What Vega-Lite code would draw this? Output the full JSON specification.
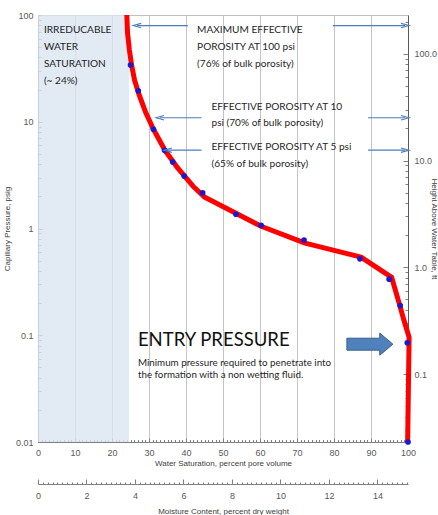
{
  "$schema": "https://vega.github.io/schema/vega-lite/v6.json",
  "autosize": "none",
  "width": 370,
  "height": 427,
  "padding": {"left": 38, "top": 15, "right": 30, "bottom": 73},
  "background": "white",
  "config": {
    "view": {"stroke": "#bfbfbf"},
    "axis": {
      "labelFont": "Liberation Sans",
      "labelFontSize": 9,
      "labelColor": "#595959",
      "titleFont": "Liberation Sans",
      "titleFontSize": 8,
      "titleFontWeight": "normal",
      "titleColor": "#404040",
      "domainColor": "#7f7f7f",
      "tickColor": "#7f7f7f",
      "gridColor": "#d4d4d4"
    }
  },
  "datasets": {
    "pts": [
      {"s": 25.0, "p": 34}, {"s": 27.1, "p": 19.5}, {"s": 31.2, "p": 8.5}, {"s": 34.2, "p": 5.4},
      {"s": 36.4, "p": 4.2}, {"s": 39.5, "p": 3.1}, {"s": 44.5, "p": 2.16}, {"s": 53.5, "p": 1.36},
      {"s": 60.3, "p": 1.07}, {"s": 71.9, "p": 0.78}, {"s": 87.0, "p": 0.52}, {"s": 94.9, "p": 0.335},
      {"s": 97.9, "p": 0.19}, {"s": 99.8, "p": 0.085}, {"s": 100, "p": 0.01}
    ],
    "curve": [
      {"i": 1, "s": 24.0, "p": 100}, {"i": 2, "s": 24.2, "p": 68}, {"i": 3, "s": 24.7, "p": 47},
      {"i": 4, "s": 25.3, "p": 34}, {"i": 5, "s": 26.1, "p": 24.5}, {"i": 6, "s": 27.3, "p": 18},
      {"i": 7, "s": 29.2, "p": 12}, {"i": 8, "s": 31.2, "p": 8.5}, {"i": 9, "s": 34.3, "p": 5.4},
      {"i": 10, "s": 37.8, "p": 3.67}, {"i": 11, "s": 41.9, "p": 2.49}, {"i": 12, "s": 45.1, "p": 1.96},
      {"i": 13, "s": 60.3, "p": 1.05}, {"i": 14, "s": 72.2, "p": 0.73}, {"i": 15, "s": 87.3, "p": 0.54},
      {"i": 16, "s": 95.6, "p": 0.348}, {"i": 17, "s": 97.6, "p": 0.2}, {"i": 18, "s": 98.9, "p": 0.138},
      {"i": 19, "s": 100.3, "p": 0.096}, {"i": 20, "s": 99.9, "p": 0.01}
    ],
    "arrows": [
      {"a": 26.8, "b": 40.5, "y": 79.6}, {"a": 79.7, "b": 99.2, "y": 79.6},
      {"a": 33.0, "b": 44.2, "y": 10.9}, {"a": 89.2, "b": 99.2, "y": 10.9},
      {"a": 35.1, "b": 44.2, "y": 5.42}, {"a": 89.2, "b": 99.2, "y": 5.42}
    ],
    "lheads": [{"x": 26.8, "y": 79.6}, {"x": 33.0, "y": 10.9}, {"x": 35.1, "y": 5.42}],
    "rheads": [{"x": 99.2, "y": 79.6}, {"x": 99.2, "y": 10.9}, {"x": 99.2, "y": 5.42}],
    "notes": [
      {"x": 1.6, "y": 72.1, "t": "IRREDUCABLE"},
      {"x": 1.6, "y": 50, "t": "WATER"},
      {"x": 1.6, "y": 34.7, "t": "SATURATION"},
      {"x": 1.6, "y": 24, "t": "(~ 24%)"},
      {"x": 43.0, "y": 72.1, "t": "MAXIMUM EFFECTIVE"},
      {"x": 43.0, "y": 50, "t": "POROSITY AT 100 psi"},
      {"x": 43.0, "y": 34.7, "t": "(76% of bulk porosity)"},
      {"x": 46.9, "y": 13.7, "t": "EFFECTIVE POROSITY AT 10"},
      {"x": 46.9, "y": 9.7, "t": "psi (70% of bulk porosity)"},
      {"x": 46.9, "y": 5.78, "t": "EFFECTIVE POROSITY AT 5 psi"},
      {"x": 46.9, "y": 4.0, "t": "(65% of bulk porosity)"}
    ],
    "entry": [{"x": 27.0, "y": 0.0897, "t": "ENTRY PRESSURE"}],
    "desc": [
      {"x": 27.0, "y": 0.055, "t": "Minimum pressure required to penetrate into"},
      {"x": 27.0, "y": 0.0422, "t": "the formation with a non wetting  fluid."}
    ],
    "big": [{"x": 89.7, "y": 0.0825}],
    "shade": [{"a": 0, "b": 24.6}]
  },
  "layer": [
    {
      "data": {"values": [{"w": 50}]},
      "mark": {"type": "point", "opacity": 0},
      "encoding": {
        "x": {
          "field": "w", "type": "quantitative",
          "scale": {"domain": [0, 100], "nice": false},
          "axis": {
            "orient": "bottom",
            "title": null,
            "grid": true,
            "gridColor": "#c4c4c4",
            "gridWidth": 1,
            "domain": false,
            "labels": false,
            "values": [0,1,2,3,4,5,6,7,8,9,10,11,12,13,14,15,16,17,18,19,20,21,22,23,24,25,26,27,28,29,30,31,32,33,34,35,36,37,38,39,40,41,42,43,44,45,46,47,48,49,50,51,52,53,54,55,56,57,58,59,60,61,62,63,64,65,66,67,68,69,70,71,72,73,74,75,76,77,78,79,80,81,82,83,84,85,86,87,88,89,90,91,92,93,94,95,96,97,98,99,100],
            "tickSize": {"condition": {"test": "datum.value % 10 == 0", "value": -4}, "value": -2.5},
            "gridOpacity": {"condition": {"test": "datum.value % 10 == 0", "value": 1}, "value": 0}
          }
        },
        "y": {
          "field": "w", "type": "quantitative",
          "scale": {"domain": [0, 100], "nice": false},
          "axis": null
        }
      }
    },
    {
      "encoding": {
        "x": {
          "type": "quantitative",
          "scale": {"domain": [0, 100], "nice": false},
          "axis": {
            "orient": "bottom",
            "title": "Water Saturation, percent pore volume",
            "values": [0, 10, 20, 30, 40, 50, 60, 70, 80, 90, 100],
            "format": "d",
            "grid": false,
            "ticks": false,
            "labelPadding": 6,
            "titlePadding": 2,
            "labelOverlap": false,
            "labelFlush": false
          }
        },
        "y": {
          "type": "quantitative",
          "scale": {"type": "log", "domain": [0.01, 100], "nice": false},
          "axis": {
            "title": "Capillary Pressure, psig",
            "values": [0.01,0.02,0.03,0.04,0.05,0.06,0.07,0.08,0.09,0.1,0.2,0.3,0.4,0.5,0.6,0.7,0.8,0.9,1,2,3,4,5,6,7,8,9,10,20,30,40,50,60,70,80,90,100],
            "labelExpr": "datum.value == 0.01 ? '0.01' : datum.value == 0.1 ? '0.1' : datum.value == 1 ? '1' : datum.value == 10 ? '10' : datum.value == 100 ? '100' : ''",
            "tickSize": {"condition": {"test": "indexof([0.01,0.1,1,10,100], datum.value) >= 0", "value": -4}, "value": -3},
            "gridOpacity": {"condition": {"test": "indexof([0.01,0.1,1,10,100], datum.value) >= 0", "value": 1}, "value": 0},
            "labelPadding": 9,
            "titlePadding": 4,
            "labelOverlap": false,
            "labelFlush": false
          }
        }
      },
      "layer": [
        {
          "data": {"name": "shade"},
          "mark": {"type": "rect", "color": "#dbe5f1", "opacity": 0.8},
          "encoding": {
            "x": {"field": "a"},
            "x2": {"field": "b"},
            "y": null
          }
        },
        {
          "data": {"name": "curve"},
          "mark": {"type": "line", "color": "#ff0000", "strokeWidth": 5, "strokeJoin": "round"},
          "encoding": {
            "x": {"field": "s"},
            "y": {"field": "p"},
            "order": {"field": "i", "type": "quantitative"}
          }
        },
        {
          "data": {"name": "pts"},
          "mark": {"type": "circle", "color": "#1a1acc", "size": 32, "opacity": 1},
          "encoding": {
            "x": {"field": "s"},
            "y": {"field": "p"}
          }
        },
        {
          "data": {"name": "arrows"},
          "mark": {"type": "rule", "color": "#4a7ebb", "strokeWidth": 1.1},
          "encoding": {
            "x": {"field": "a"},
            "x2": {"field": "b"},
            "y": {"field": "y"}
          }
        },
        {
          "data": {"name": "lheads"},
          "mark": {"type": "point", "shape": "M1,-0.55L-1,0L1,0.55", "filled": false, "size": 64, "stroke": "#4a7ebb", "strokeWidth": 1.1, "opacity": 1},
          "encoding": {
            "x": {"field": "x"},
            "y": {"field": "y"}
          }
        },
        {
          "data": {"name": "rheads"},
          "mark": {"type": "point", "shape": "M-1,-0.55L1,0L-1,0.55", "filled": false, "size": 64, "stroke": "#4a7ebb", "strokeWidth": 1.1, "opacity": 1},
          "encoding": {
            "x": {"field": "x"},
            "y": {"field": "y"}
          }
        },
        {
          "data": {"name": "notes"},
          "mark": {"type": "text", "align": "left", "baseline": "middle", "font": "Lato", "fontSize": 10.1, "color": "#1f1f1f"},
          "encoding": {
            "x": {"field": "x"},
            "y": {"field": "y"},
            "text": {"field": "t"}
          }
        },
        {
          "data": {"name": "entry"},
          "mark": {"type": "text", "align": "left", "baseline": "middle", "font": "Lato", "fontSize": 18.5, "color": "#111111"},
          "encoding": {
            "x": {"field": "x"},
            "y": {"field": "y"},
            "text": {"field": "t"}
          }
        },
        {
          "data": {"name": "desc"},
          "mark": {"type": "text", "align": "left", "baseline": "middle", "font": "Lato", "fontSize": 9.8, "color": "#1f1f1f"},
          "encoding": {
            "x": {"field": "x"},
            "y": {"field": "y"},
            "text": {"field": "t"}
          }
        },
        {
          "data": {"name": "big"},
          "mark": {"type": "point", "shape": "M-1,-0.26L0.43,-0.26L0.43,-0.48L1,0L0.43,0.48L0.43,0.26L-1,0.26Z", "filled": true, "size": 2116, "fill": "#4f81bd", "stroke": "#385d8a", "strokeWidth": 1, "opacity": 1},
          "encoding": {
            "x": {"field": "x"},
            "y": {"field": "y"}
          }
        }
      ]
    },
    {
      "data": {"values": [{"h": 1}]},
      "mark": {"type": "point", "opacity": 0},
      "encoding": {
        "y": {
          "field": "h", "type": "quantitative",
          "scale": {"type": "log", "domain": [0.0231, 231], "nice": false},
          "axis": {
            "orient": "right",
            "title": "Height Above Water Table, ft",
            "grid": false,
            "domainColor": "#595959",
            "values": [0.03,0.04,0.05,0.06,0.07,0.08,0.09,0.1,0.2,0.3,0.4,0.5,0.6,0.7,0.8,0.9,1,2,3,4,5,6,7,8,9,10,20,30,40,50,60,70,80,90,100,200],
            "labelExpr": "indexof([0.1,1,10,100], datum.value) >= 0 ? format(datum.value, '.1f') : ''",
            "tickSize": {"condition": {"test": "indexof([0.1,1,10,100], datum.value) >= 0", "value": -5}, "value": -3},
            "labelPadding": 11,
            "titlePadding": -7,
            "labelOverlap": false,
            "labelFlush": false
          }
        }
      }
    },
    {
      "data": {"values": [{"m": 1}]},
      "mark": {"type": "point", "opacity": 0},
      "encoding": {
        "x": {
          "field": "m", "type": "quantitative",
          "scale": {"domain": [0, 15.26], "nice": false, "zero": true},
          "axis": {
            "orient": "bottom",
            "offset": 42,
            "title": "Moisture Content, percent dry weight",
            "grid": false,
            "values": [0,0.2,0.4,0.6,0.8,1,1.2,1.4,1.6,1.8,2,2.2,2.4,2.6,2.8,3,3.2,3.4,3.6,3.8,4,4.2,4.4,4.6,4.8,5,5.2,5.4,5.6,5.8,6,6.2,6.4,6.6,6.8,7,7.2,7.4,7.6,7.8,8,8.2,8.4,8.6,8.8,9,9.2,9.4,9.6,9.8,10,10.2,10.4,10.6,10.8,11,11.2,11.4,11.6,11.8,12,12.2,12.4,12.6,12.8,13,13.2,13.4,13.6,13.8,14,14.2,14.4,14.6,14.8,15,15.2],
            "labelExpr": "indexof([0,2,4,6,8,10,12,14], datum.value) >= 0 ? format(datum.value, 'd') : ''",
            "tickSize": {"condition": {"test": "indexof([0,2,4,6,8,10,12,14], datum.value) >= 0", "value": -5}, "value": -2},
            "labelPadding": 12,
            "titlePadding": 4,
            "labelOverlap": false,
            "labelFlush": false
          }
        }
      }
    }
  ],
  "resolve": {"scale": {"x": "independent", "y": "independent"}, "axis": {"x": "independent", "y": "independent"}}
}
